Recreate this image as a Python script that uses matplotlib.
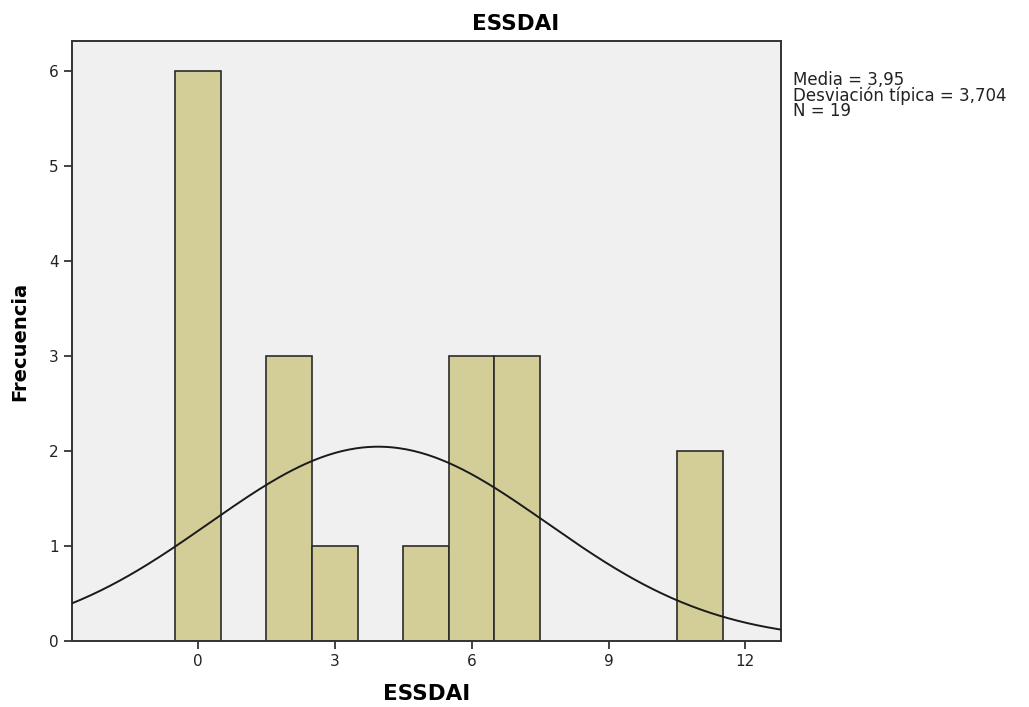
import numpy as np
import matplotlib
matplotlib.use('Agg')
import matplotlib.pyplot as plt

# valores ESSDAI y frecuencias
valores = [0, 2, 3, 5, 6, 7, 11]
frecuencias = [6, 3, 1, 1, 3, 3, 2]
media = 3.95
desv = 3.704
n = 19
xticks = [0, 3, 6, 9, 12]
yticks = [0, 1, 2, 3, 4, 5, 6]

plt.rcParams['font.family'] = ['DejaVu Sans']

fig = plt.figure(figsize=(10.29, 7.07), dpi=100)
ax = fig.add_axes([0.070, 0.0934, 0.689, 0.8486])
ax.set_facecolor('#F0F0F0')

ax.bar(valores, frecuencias, width=1.0, color='#D3CE98', edgecolor='#2b2b2b', linewidth=1.2, zorder=2)

# curva normal
xs = np.linspace(-2.76, 12.78, 300)
ys = n * 1.0 / (desv * np.sqrt(2 * np.pi)) * np.exp(-0.5 * ((xs - media) / desv) ** 2)
ax.plot(xs, ys, color='#1a1a1a', linewidth=1.4, zorder=3)

ax.set_xlim(-2.76, 12.78)
ax.set_ylim(0, 6.32)
ax.set_xticks(xticks)
ax.set_yticks(yticks)
ax.tick_params(direction='out', length=6, width=1.2, labelsize=11, colors='#222222')
for s in ax.spines.values():
    s.set_linewidth(1.4)
    s.set_color('#333333')

# titulo centrado en la figura
fig.text(0.5015, 0.958, 'ESSDAI', fontsize=15.5, fontweight='bold', ha='center', va='baseline')
ax.set_xlabel('ESSDAI', fontsize=15.5, fontweight='bold', labelpad=11)
ax.set_ylabel('Frecuencia', fontsize=14, fontweight='bold', labelpad=14)

fig.text(0.771, 0.900, 'Media = 3,95\nDesviación típica = 3,704\nN = 19',
         fontsize=12, va='top', ha='left', linespacing=0.82, color='#222222')

plt.savefig('out.png', dpi=100)
